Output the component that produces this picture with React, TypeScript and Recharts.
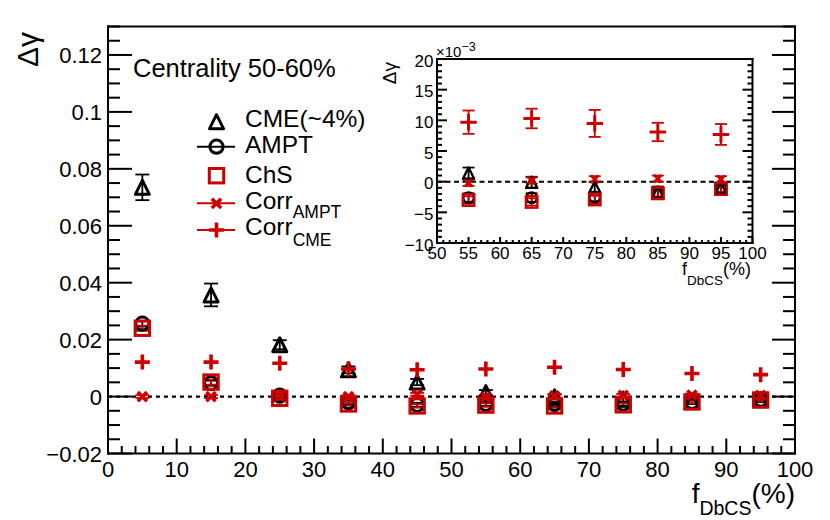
import React from 'react';
import { ScatterChart, Scatter, XAxis, YAxis, ReferenceLine, ErrorBar } from 'recharts';

const FONT = '"Liberation Sans", Arial, Helvetica, sans-serif';
const RED = '#cc0000';
const BLACK = '#000000';

// ---- data (Δγ vs f_DbCS) ----
const F_DBCS = [5, 15, 25, 35, 45, 55, 65, 75, 85, 95];
const CME = [0.0735, 0.0357, 0.0182, 0.0094, 0.0051, 0.0014, -0.0001, -0.0009, -0.0017, -0.0011];
const CME_ERR = [0.0045, 0.004, 0.0016, 0.0012, 0.0011, 0.0009, 0.0009, 0.0009, 0.0009, 0.0009];
const AMPT = [0.0256, 0.0047, 0.0003, -0.002, -0.0029, -0.0026, -0.0026, -0.0025, -0.0019, -0.0011];
const AMPT_ERR = [0.001, 0.0009, 0.0008, 0.0007, 0.0007, 0.0007, 0.0007, 0.0007, 0.0006, 0.0006];
const CHS = [0.024, 0.0051, -0.0006, -0.0026, -0.0033, -0.003, -0.0033, -0.0029, -0.0019, -0.0012];
const CHS_ERR = [0.0009, 0.0009, 0.0007, 0.0006, 0.0006, 0.0006, 0.0006, 0.0006, 0.0005, 0.0005];
const CORR_AMPT = [0.0, 0.0, 0.0001, 0.0, 0.0008, -0.0002, 0.0002, 0.0004, 0.0005, 0.0004];
const CORR_AMPT_ERR = [0.0005, 0.0005, 0.0005, 0.0005, 0.0005, 0.0005, 0.0005, 0.0005, 0.0005, 0.0005];
const CORR_CME = [0.0121, 0.0121, 0.0117, 0.0097, 0.0094, 0.0097, 0.0103, 0.0095, 0.0081, 0.0077];
const CORR_CME_ERR = [0.0018, 0.0018, 0.0018, 0.0018, 0.0018, 0.0019, 0.0016, 0.0022, 0.0015, 0.0017];

// ---- tick labels ----
const MAIN_X_MAJOR = [0, 10, 20, 30, 40, 50, 60, 70, 80, 90, 100];
const MAIN_X_LABELS = ['0', '10', '20', '30', '40', '50', '60', '70', '80', '90', '100'];
const MAIN_Y_MAJOR = [-0.02, 0, 0.02, 0.04, 0.06, 0.08, 0.1, 0.12];
const MAIN_Y_LABELS = ['\u22120.02', '0', '0.02', '0.04', '0.06', '0.08', '0.1', '0.12'];
const INSET_X_MAJOR = [50, 55, 60, 65, 70, 75, 80, 85, 90, 95, 100];
const INSET_X_LABELS = ['50', '55', '60', '65', '70', '75', '80', '85', '90', '95', '100'];
const INSET_Y_MAJOR = [-10, -5, 0, 5, 10, 15, 20];
const INSET_Y_LABELS = ['\u221210', '\u22125', '0', '5', '10', '15', '20'];

const steps = (from: number, to: number, n: number) =>
  Array.from({ length: n + 1 }, (_, i) => from + ((to - from) * i) / n);
const MAIN_X_TICKS = steps(0, 100, 50);
const MAIN_Y_TICKS = steps(-0.02, 0.13, 30);
const INSET_X_TICKS = steps(50, 100, 50);
const INSET_Y_TICKS = steps(-10, 20, 30);

type Kind = 'triangle' | 'circle' | 'square' | 'cross' | 'plus';

const SERIES: { key: string; kind: Kind; color: string; y: number[]; err: number[] }[] = [
  { key: 'cme', kind: 'triangle', color: BLACK, y: CME, err: CME_ERR },
  { key: 'ampt', kind: 'circle', color: BLACK, y: AMPT, err: AMPT_ERR },
  { key: 'chs', kind: 'square', color: RED, y: CHS, err: CHS_ERR },
  { key: 'corrAmpt', kind: 'cross', color: RED, y: CORR_AMPT, err: CORR_AMPT_ERR },
  { key: 'corrCme', kind: 'plus', color: RED, y: CORR_CME, err: CORR_CME_ERR },
];

const mainData = (s: (typeof SERIES)[number]) =>
  F_DBCS.map((x, i) => ({ x, y: s.y[i], e: s.err[i] }));
const insetData = (s: (typeof SERIES)[number]) =>
  F_DBCS.map((x, i) => ({ x, y: s.y[i] * 1000, e: s.err[i] * 1000 })).filter((d) => d.x > 50);

function Marker({ kind, cx, cy, color, k = 1, sw = 1 }: any) {
  if (cx == null || cy == null) return null;
  switch (kind) {
    case 'triangle': {
      const h = 7 * k;
      return (
        <polygon
          points={`${cx - h},${cy + h} ${cx + h},${cy + h} ${cx},${cy - h}`}
          fill="none"
          stroke={color}
          strokeWidth={3 * k * sw}
          strokeLinejoin="round"
        />
      );
    }
    case 'circle':
      return <circle cx={cx} cy={cy} r={6.6 * k} fill="none" stroke={color} strokeWidth={3 * k * sw} />;
    case 'square': {
      const h = 7.2 * k;
      return <rect x={cx - h} y={cy - h} width={2 * h} height={2 * h} fill="none" stroke={color} strokeWidth={3 * k * sw} />;
    }
    case 'cross': {
      const h = 4.6 * k;
      return (
        <path
          d={`M${cx - h},${cy - h}L${cx + h},${cy + h}M${cx - h},${cy + h}L${cx + h},${cy - h}`}
          stroke={color}
          strokeWidth={3.6 * k * sw}
          fill="none"
        />
      );
    }
    case 'plus': {
      const h = 7.5 * k;
      return (
        <path d={`M${cx - h},${cy}H${cx + h}M${cx},${cy - h}V${cy + h}`} stroke={color} strokeWidth={3.6 * k * sw} fill="none" />
      );
    }
  }
  return null;
}

const idx = (v: number, arr: number[]) => arr.findIndex((a) => Math.abs(a - v) < 1e-9);

type TickCfg = {
  side: 'left' | 'right' | 'top' | 'bottom';
  major: number[];
  labels?: string[];
  majorLen: number;
  minorLen: number;
  sw: number;
  fontSize?: number;
  gap?: number;
  dy?: number;
};

const makeTick = (cfg: TickCfg) => (p: any) => {
  const v = p.payload.value;
  const i = idx(v, cfg.major);
  const len = i >= 0 ? cfg.majorLen : cfg.minorLen;
  const { x, y } = p;
  let line;
  let label = null;
  if (cfg.side === 'left') {
    line = <line x1={x} x2={x + len} y1={y} y2={y} stroke="#000" strokeWidth={cfg.sw} />;
    if (i >= 0 && cfg.labels)
      label = (
        <text x={x - (cfg.gap || 0)} y={y + (cfg.dy || 0)} textAnchor="end" fontSize={cfg.fontSize} fontFamily={FONT} fill="#000">
          {cfg.labels[i]}
        </text>
      );
  } else if (cfg.side === 'right') {
    line = <line x1={x} x2={x - len} y1={y} y2={y} stroke="#000" strokeWidth={cfg.sw} />;
  } else if (cfg.side === 'top') {
    line = <line x1={x} x2={x} y1={y} y2={y + len} stroke="#000" strokeWidth={cfg.sw} />;
  } else {
    line = <line x1={x} x2={x} y1={y} y2={y - len} stroke="#000" strokeWidth={cfg.sw} />;
    if (i >= 0 && cfg.labels)
      label = (
        <text x={x} y={y + (cfg.dy || 0)} textAnchor="middle" fontSize={cfg.fontSize} fontFamily={FONT} fill="#000">
          {cfg.labels[i]}
        </text>
      );
  }
  return (
    <g>
      {line}
      {label}
    </g>
  );
};

const FRAME = { stroke: '#000', strokeWidth: 2, strokeLinecap: 'square' as const };

function MainChart() {
  return (
    <ScatterChart width={830} height={520} margin={{ top: 25.5, right: 34, bottom: 65.5, left: 107 }}>
      <XAxis
        type="number"
        dataKey="x"
        domain={[0, 100]}
        allowDataOverflow
        ticks={MAIN_X_TICKS}
        interval={0}
        height={1}
        tickSize={0}
        tickMargin={0}
        axisLine={FRAME}
        tickLine={false}
        tick={makeTick({ side: 'bottom', major: MAIN_X_MAJOR, labels: MAIN_X_LABELS, majorLen: 15, minorLen: 7.5, sw: 2, fontSize: 22, dy: 23.5 })}
      />
      <XAxis
        xAxisId="top"
        orientation="top"
        type="number"
        domain={[0, 100]}
        allowDataOverflow
        ticks={MAIN_X_TICKS}
        interval={0}
        height={1}
        tickSize={0}
        tickMargin={0}
        axisLine={FRAME}
        tickLine={false}
        tick={makeTick({ side: 'top', major: MAIN_X_MAJOR, majorLen: 14, minorLen: 7, sw: 2 })}
      />
      <YAxis
        type="number"
        dataKey="y"
        domain={[-0.02, 0.13]}
        allowDataOverflow
        ticks={MAIN_Y_TICKS}
        interval={0}
        width={1}
        tickSize={0}
        tickMargin={0}
        axisLine={FRAME}
        tickLine={false}
        tick={makeTick({ side: 'left', major: MAIN_Y_MAJOR, labels: MAIN_Y_LABELS, majorLen: 24, minorLen: 12, sw: 2, fontSize: 22, gap: 6, dy: 8.5 })}
      />
      <YAxis
        yAxisId="right"
        orientation="right"
        type="number"
        domain={[-0.02, 0.13]}
        allowDataOverflow
        ticks={MAIN_Y_TICKS}
        interval={0}
        width={1}
        tickSize={0}
        tickMargin={0}
        axisLine={FRAME}
        tickLine={false}
        tick={makeTick({ side: 'right', major: MAIN_Y_MAJOR, majorLen: 23, minorLen: 12, sw: 2 })}
      />
      <ReferenceLine y={0} stroke="#000" strokeWidth={2.2} strokeDasharray="4 4" />
      {SERIES.map((s) => (
        <Scatter
          key={s.key}
          data={mainData(s)}
          isAnimationActive={false}
          shape={(p: any) => <Marker kind={s.kind} cx={p.cx} cy={p.cy} color={s.color} />}
        >
          {s.kind !== 'plus' && (
            <ErrorBar dataKey="e" direction="y" width={7} stroke={s.color} strokeWidth={1.8} isAnimationActive={false} />
          )}
        </Scatter>
      ))}
    </ScatterChart>
  );
}

function InsetChart() {
  return (
    <ScatterChart width={400} height={280} margin={{ top: 28, right: 26.5, bottom: 66, left: 56 }}>
      <XAxis
        type="number"
        dataKey="x"
        domain={[50, 100]}
        allowDataOverflow
        ticks={INSET_X_TICKS}
        interval={0}
        height={1}
        tickSize={0}
        tickMargin={0}
        axisLine={FRAME}
        tickLine={false}
        tick={makeTick({ side: 'bottom', major: INSET_X_MAJOR, labels: INSET_X_LABELS, majorLen: 6, minorLen: 3, sw: 2, fontSize: 17, dy: 16 })}
      />
      <XAxis
        xAxisId="top"
        orientation="top"
        type="number"
        domain={[50, 100]}
        allowDataOverflow
        ticks={INSET_X_TICKS}
        interval={0}
        height={1}
        tickSize={0}
        tickMargin={0}
        axisLine={FRAME}
        tickLine={false}
        tick={makeTick({ side: 'top', major: INSET_X_MAJOR, majorLen: 6, minorLen: 3, sw: 2 })}
      />
      <YAxis
        type="number"
        dataKey="y"
        domain={[-10, 20]}
        allowDataOverflow
        ticks={INSET_Y_TICKS}
        interval={0}
        width={1}
        tickSize={0}
        tickMargin={0}
        axisLine={FRAME}
        tickLine={false}
        tick={makeTick({ side: 'left', major: INSET_Y_MAJOR, labels: INSET_Y_LABELS, majorLen: 10, minorLen: 5, sw: 2, fontSize: 17, gap: 3.5, dy: 7.5 })}
      />
      <YAxis
        yAxisId="right"
        orientation="right"
        type="number"
        domain={[-10, 20]}
        allowDataOverflow
        ticks={INSET_Y_TICKS}
        interval={0}
        width={1}
        tickSize={0}
        tickMargin={0}
        axisLine={FRAME}
        tickLine={false}
        tick={makeTick({ side: 'right', major: INSET_Y_MAJOR, majorLen: 10, minorLen: 5, sw: 2 })}
      />
      <ReferenceLine y={0} stroke="#000" strokeWidth={2} strokeDasharray="5 3.5" />
      {SERIES.map((s) => (
        <Scatter
          key={s.key}
          data={insetData(s)}
          isAnimationActive={false}
          shape={(p: any) => (
            <Marker kind={s.kind} cx={p.cx} cy={p.cy} color={s.color} k={s.kind === 'plus' ? 1.1 : 0.8} sw={s.kind === 'plus' ? 0.75 : 1} />
          )}
        >
          <ErrorBar dataKey="e" direction="y" width={6} stroke={s.color} strokeWidth={1.8} isAnimationActive={false} />
        </Scatter>
      ))}
    </ScatterChart>
  );
}

const LEGEND: { kind: Kind; color: string; line: boolean; my: number; ty: number; label: string; sub?: string; subDy?: number }[] = [
  { kind: 'triangle', color: BLACK, line: false, my: 121.7, ty: 126.7, label: 'CME(~4%)' },
  { kind: 'circle', color: BLACK, line: true, my: 146.7, ty: 153.3, label: 'AMPT' },
  { kind: 'square', color: RED, line: false, my: 175.7, ty: 182.7, label: 'ChS' },
  { kind: 'cross', color: RED, line: true, my: 203.3, ty: 209.3, label: 'Corr', sub: 'AMPT', subDy: 8.5 },
  { kind: 'plus', color: RED, line: true, my: 230, ty: 235, label: 'Corr', sub: 'CME', subDy: 10.5 },
];

function Overlay() {
  return (
    <svg width={830} height={520} style={{ position: 'absolute', left: 0, top: 0, pointerEvents: 'none' }} fontFamily={FONT}>
      <text x={133} y={76.7} fontSize={25.5} fill="#000">
        Centrality 50-60%
      </text>
      {LEGEND.map((r, i) => (
        <g key={i}>
          {r.line && <line x1={197} x2={235} y1={r.my} y2={r.my} stroke={r.color} strokeWidth={2} />}
          <Marker kind={r.kind} cx={216.5} cy={r.my} color={r.color} />
          <text x={245} y={r.ty} fontSize={24.5} fill="#000">
            {r.label}
            {r.sub && (
              <tspan fontSize={17.5} dy={r.subDy}>
                {r.sub}
              </tspan>
            )}
          </text>
        </g>
      ))}
      <text transform="translate(38,32) rotate(-90)" textAnchor="end" fontSize={30} fill="#000">
        Δγ
      </text>
      <text x={795} y={503} textAnchor="end" fontSize={28} fill="#000">
        f
        <tspan fontSize={19.5} dy={12}>
          DbCS
        </tspan>
        <tspan dy={-12}>(%)</tspan>
      </text>
      {/* inset titles */}
      <text transform="translate(396,62) rotate(-90)" textAnchor="end" fontSize={19} fill="#000">
        Δγ
      </text>
      <text x={436} y={56.5} fontSize={15} fill="#000">
        ×10
        <tspan fontSize={12.5} dy={-6}>
          −3
        </tspan>
      </text>
      <text x={751} y={274.5} textAnchor="end" fontSize={18} fill="#000">
        f
        <tspan fontSize={13.5} dy={10.5}>
          DbCS
        </tspan>
        <tspan dy={-10.5}>(%)</tspan>
      </text>
    </svg>
  );
}

export default function App() {
  return (
    <div style={{ position: 'absolute', left: 0, top: 0, width: 830, height: 520, background: '#fff', overflow: 'hidden' }}>
      <div style={{ position: 'absolute', left: 0, top: 0 }}>
        <MainChart />
      </div>
      <div style={{ position: 'absolute', left: 380, top: 30 }}>
        <InsetChart />
      </div>
      <Overlay />
    </div>
  );
}
